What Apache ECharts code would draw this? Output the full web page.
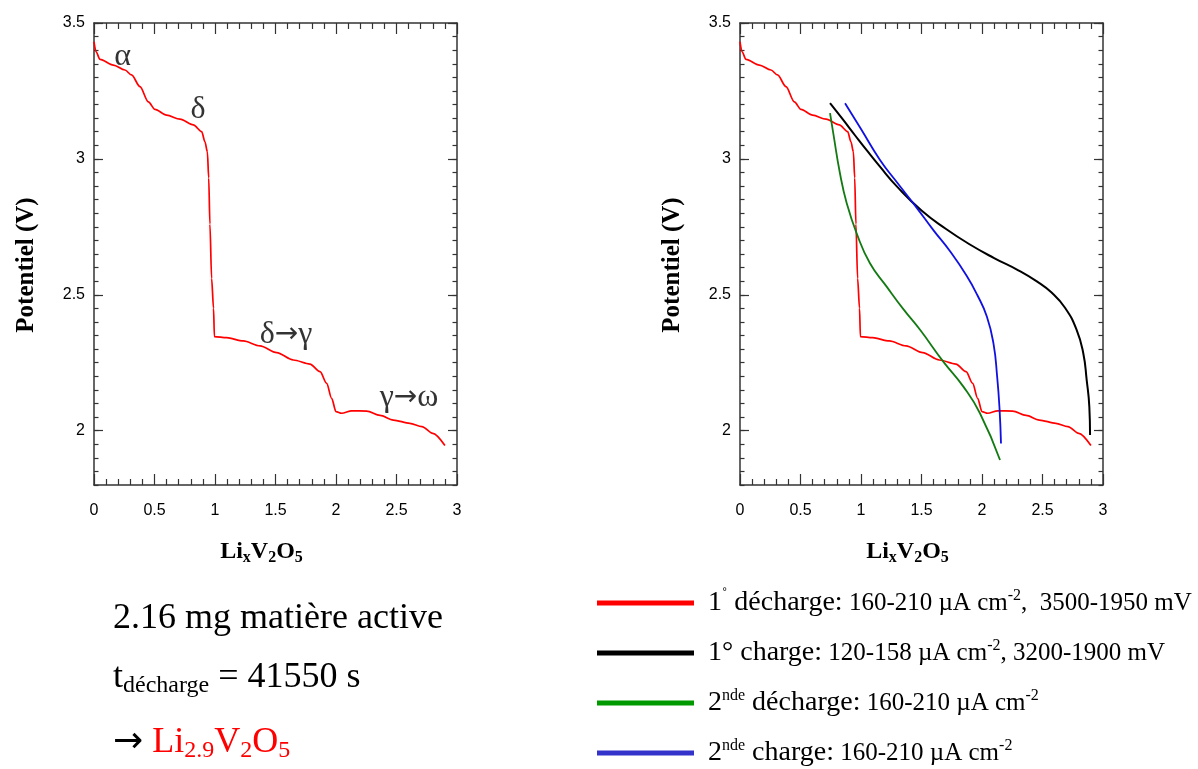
<!DOCTYPE html>
<html>
<head>
<meta charset="utf-8">
<script src="https://cdn.jsdelivr.net/npm/echarts@6/dist/echarts.min.js"></script>
<style>
  html, body { margin: 0; padding: 0; background: #fff; }
  #chart { width: 1198px; height: 769px; }
</style>
</head>
<body>
<div id="chart"></div>
<script>
// Potential (V) versus lithium content x in LixV2O5
const discharge1 = [
  [0, 3.431], [0.017, 3.394], [0.05, 3.366], [0.16, 3.345], [0.256, 3.327],
  [0.31, 3.309], [0.38, 3.266], [0.449, 3.21], [0.504, 3.182], [0.60, 3.161],
  [0.711, 3.146], [0.821, 3.125], [0.89, 3.10], [0.917, 3.063], [0.937, 3.026],
  [0.948, 2.93], [0.958, 2.76], [0.972, 2.56], [0.988, 2.45], [0.995, 2.346],
  [1.096, 2.342], [1.234, 2.330], [1.372, 2.312], [1.51, 2.287], [1.647, 2.260],
  [1.785, 2.245], [1.868, 2.217], [1.923, 2.174], [1.964, 2.119], [2.0, 2.07],
  [2.047, 2.064], [2.13, 2.073], [2.254, 2.072], [2.364, 2.056], [2.474, 2.039],
  [2.61, 2.027], [2.71, 2.015], [2.80, 1.99], [2.90, 1.945]
];
const charge1 = [
  [0.744, 3.205], [0.85, 3.145], [0.95, 3.087], [1.05, 3.03], [1.15, 2.975],
  [1.3, 2.897], [1.5, 2.81], [1.7, 2.743], [1.9, 2.685], [2.1, 2.635],
  [2.3, 2.59], [2.45, 2.55], [2.575, 2.508], [2.686, 2.452], [2.782, 2.371],
  [2.837, 2.285], [2.865, 2.187], [2.887, 2.088], [2.893, 1.984]
];
const discharge2 = [
  [0.744, 3.168], [0.771, 3.094], [0.826, 2.947], [0.882, 2.837], [0.964, 2.726],
  [1.074, 2.616], [1.212, 2.53], [1.35, 2.447], [1.488, 2.371], [1.68, 2.254],
  [1.846, 2.162], [1.983, 2.064], [2.149, 1.892]
];
const charge2 = [
  [0.868, 3.205], [1.0, 3.11], [1.157, 2.996], [1.3, 2.912], [1.45, 2.826],
  [1.598, 2.738], [1.736, 2.66], [1.873, 2.57], [1.96, 2.5], [2.04, 2.42],
  [2.095, 2.32], [2.125, 2.2], [2.145, 2.08], [2.157, 1.953]
];
// phase labels on the first discharge: [x, V, text]
const phaseLabels = [
  [0.236, 3.378, 'α'], [0.86, 3.183, 'δ'], [1.587, 2.352, 'δ→γ'], [2.603, 2.12, 'γ→ω']
];
const yTickValues = [2, 2.5, 3, 3.5];
const seriesNames = ['1˚ décharge', '1° charge', '2nde décharge', '2nde charge'];

const AXIS_COLOR = '#333';
const SANS = 'Liberation Sans, Arial, sans-serif';
const SERIF = 'Liberation Serif, Times New Roman, serif';
const ARROW_FONT = 'DejaVu Sans, sans-serif';

function xAxesFor(grid) {
  const base = {
    gridIndex: grid, type: 'value', min: 0, max: 3, interval: 0.5,
    axisLine: { show: true, onZero: false, lineStyle: { color: AXIS_COLOR, width: 1.5 } },
    axisTick: { show: true, inside: true, length: 11, lineStyle: { color: AXIS_COLOR, width: 1.2 } },
    minorTick: { show: true, splitNumber: 5, length: 6, lineStyle: { color: AXIS_COLOR, width: 1.2 } },
    splitLine: { show: false }, minorSplitLine: { show: false }
  };
  return [
    Object.assign({}, base, {
      position: 'bottom',
      axisLabel: { margin: 18, color: '#000', fontFamily: SANS, fontSize: 16 },
      name: '{m|Li}{s|x}{m|V}{s|2}{m|O}{s|5}',
      nameLocation: 'middle', nameGap: 53,
      nameTextStyle: {
        padding: [0, 28, 0, 0],
        rich: {
          m: { fontFamily: SERIF, fontWeight: 'bold', fontSize: 24, lineHeight: 28, color: '#000' },
          s: { fontFamily: SERIF, fontWeight: 'bold', fontSize: 16, lineHeight: 10, verticalAlign: 'bottom', color: '#000' }
        }
      }
    }),
    Object.assign({}, base, { position: 'top', axisLabel: { show: false } })
  ];
}

function yAxesFor(grid) {
  const major = {
    gridIndex: grid, type: 'value', min: 1.8, max: 3.5,
    axisLine: { show: true, onZero: false, lineStyle: { color: AXIS_COLOR, width: 1.5 } },
    axisTick: { show: true, inside: true, length: 9, customValues: yTickValues, lineStyle: { color: AXIS_COLOR, width: 1.2 } },
    splitLine: { show: false }
  };
  const minor = {
    gridIndex: grid, type: 'value', min: 1.8, max: 3.5, interval: 0.05,
    axisLine: { show: false, onZero: false },
    axisTick: { show: true, inside: true, length: 4.5, lineStyle: { color: AXIS_COLOR, width: 1.2 } },
    axisLabel: { show: false }, splitLine: { show: false }
  };
  return [
    Object.assign({}, major, {
      position: 'left',
      axisLabel: { margin: 9, customValues: yTickValues, color: '#000', fontFamily: SANS, fontSize: 16 },
      name: 'Potentiel (V)', nameLocation: 'middle', nameGap: 55,
      nameTextStyle: { fontFamily: SERIF, fontWeight: 'bold', fontSize: 25, color: '#000', padding: [0, 22, 0, 0] }
    }),
    Object.assign({}, minor, { position: 'left' }),
    Object.assign({}, major, { position: 'right', axisLabel: { show: false } }),
    Object.assign({}, minor, { position: 'right' })
  ];
}

function lineSeries(name, data, color, width, xi, yi, monotone) {
  return {
    name: name, type: 'line', data: data, xAxisIndex: xi, yAxisIndex: yi,
    showSymbol: false, symbol: 'none',
    smooth: monotone ? 0.3 : 0.5, smoothMonotone: monotone ? 'x' : null,
    lineStyle: { color: color, width: width }, itemStyle: { color: color },
    emphasis: { disabled: true }, silent: true, z: 3
  };
}

const legendText = {
  '1˚ décharge': '{b1|1}{sup|˚}{b| décharge:}{s| 160-210 µA cm}{sup|-2}{s|,  3500-1950 mV}',
  '1° charge': '{b1|1°}{b| charge:}{s| 120-158 µA cm}{sup|-2}{s|, 3200-1900 mV}',
  '2nde décharge': '{b1|2}{sup|nde}{b| décharge:}{s| 160-210 µA cm}{sup|-2}',
  '2nde charge': '{b1|2}{sup|nde}{b| charge:}{s| 160-210 µA cm}{sup|-2}'
};
const legendColors = ['#ff0000', '#000000', '#009900', '#3333cc'];

const chart = echarts.init(document.getElementById('chart'), null, { renderer: 'canvas' });
chart.setOption({
  animation: false,
  backgroundColor: '#fff',
  grid: [
    { left: 94, top: 23, width: 363, height: 462 },
    { left: 740, top: 23, width: 363, height: 462 }
  ],
  xAxis: xAxesFor(0).concat(xAxesFor(1)),
  yAxis: yAxesFor(0).concat(yAxesFor(1)),
  legend: {
    orient: 'vertical', left: 597, top: 588, height: 240, padding: 0,
    itemWidth: 97, itemHeight: 5, itemGap: 21, icon: 'rect',
    selectedMode: false,
    data: seriesNames.map((n, i) => ({ name: n, itemStyle: { color: legendColors[i] } })),
    formatter: name => legendText[name],
    textStyle: {
      rich: {
        b1: { fontFamily: SERIF, fontSize: 28, lineHeight: 30, color: '#000', padding: [0, 0, 0, 9] },
        b: { fontFamily: SERIF, fontSize: 28, lineHeight: 30, color: '#000' },
        s: { fontFamily: SERIF, fontSize: 25, lineHeight: 30, color: '#000' },
        sup: { fontFamily: SERIF, fontSize: 16, lineHeight: 16, verticalAlign: 'top', color: '#000' }
      }
    }
  },
  series: [
    lineSeries(seriesNames[0], discharge1, '#ff0000', 1.7, 0, 0, true),
    {
      type: 'scatter', xAxisIndex: 0, yAxisIndex: 0, symbolSize: 0, silent: true,
      data: phaseLabels,
      label: {
        show: true, position: 'inside',
        formatter: p => '{g|' + p.value[2].split('→').join('}{a|→}{g|') + '}',
        rich: {
          g: { fontFamily: SERIF, fontSize: 32, lineHeight: 34, color: '#000' },
          a: { fontFamily: ARROW_FONT, fontSize: 28, lineHeight: 34, color: '#000' }
        }
      }
    },
    lineSeries(seriesNames[0], discharge1, '#ff0000', 1.7, 2, 4, true),
    lineSeries(seriesNames[1], charge1, '#000000', 2, 2, 4, false),
    lineSeries(seriesNames[2], discharge2, '#137a13', 1.8, 2, 4, false),
    lineSeries(seriesNames[3], charge2, '#1010e0', 1.8, 2, 4, false)
  ],
  graphic: [
    {
      type: 'text', left: 113, top: 601,
      style: { text: '2.16 mg matière active', font: '36px ' + SERIF, fill: '#000' }
    },
    {
      type: 'text', left: 113, top: 660,
      style: {
        text: '{m|t}{s|décharge}{m| = 41550 s}',
        rich: {
          m: { fontFamily: SERIF, fontSize: 36, lineHeight: 40, fill: '#000' },
          s: { fontFamily: SERIF, fontSize: 24, lineHeight: 10, verticalAlign: 'bottom', fill: '#000' }
        }
      }
    },
    {
      type: 'text', left: 113, top: 725,
      style: {
        text: '{a|→}{m| }{r|Li}{rs|2.9}{r|V}{rs|2}{r|O}{rs|5}',
        rich: {
          a: { fontFamily: ARROW_FONT, fontSize: 36, lineHeight: 40, fill: '#000' },
          m: { fontFamily: SERIF, fontSize: 36, lineHeight: 40, fill: '#000' },
          r: { fontFamily: SERIF, fontSize: 36, lineHeight: 40, fill: '#ff0000' },
          rs: { fontFamily: SERIF, fontSize: 24, lineHeight: 10, verticalAlign: 'bottom', fill: '#ff0000' }
        }
      }
    }
  ]
});
</script>
</body>
</html>
